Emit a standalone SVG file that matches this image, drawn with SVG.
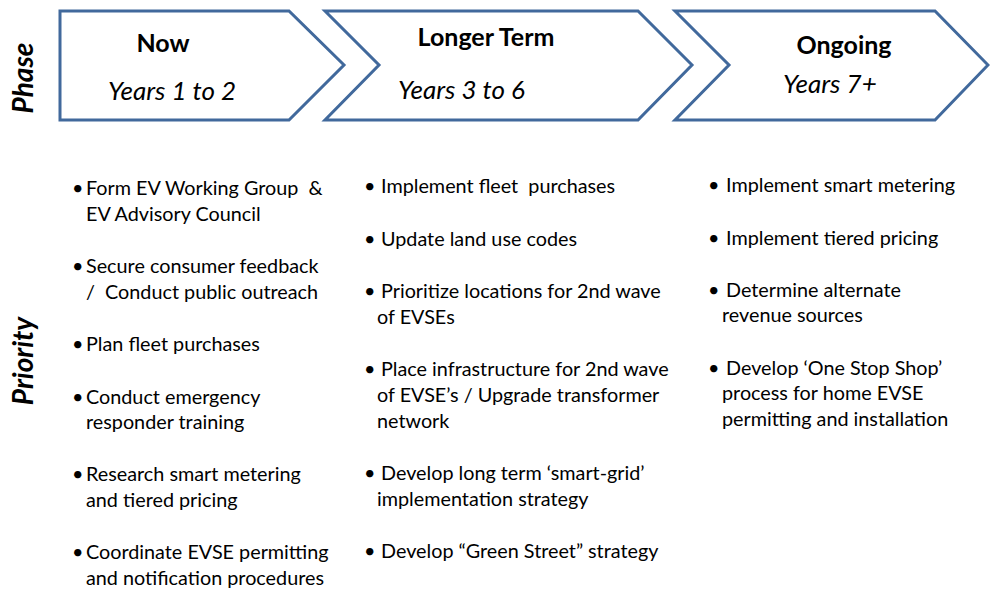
<svg xmlns="http://www.w3.org/2000/svg" width="990" height="589" viewBox="0 0 990 589">
<style>
.chev{fill:#fff;stroke:#41699c;stroke-width:3;stroke-linejoin:miter}
.t{font-family:Lato,"Liberation Sans",sans-serif;fill:#000}
.h{font-size:25px;font-weight:bold;text-anchor:middle}
.y{font-size:26px;font-style:italic}
.b{font-size:19.8px}
.side{font-size:28px;font-weight:bold;font-style:italic;text-anchor:middle}
</style>
<rect width="990" height="589" fill="#fff"/>
<g id="phase-label"><text class="t side" transform="translate(33,78) rotate(-90)">Phase</text></g>
<g id="priority-label"><text class="t side" transform="translate(33,361) rotate(-90)">Priority</text></g>
<g id="now">
<polygon class="chev" points="60,11 289,11 344,65 289,120 60,120"/>
<text class="t h" x="163" y="52">Now</text>
<text class="t y" x="108" y="100">Years 1 to 2</text>
</g>
<g id="longer-term">
<polygon class="chev" points="325,11 638,11 692,65 638,120 325,120 379,65"/>
<text class="t h" x="486" y="46">Longer Term</text>
<text class="t y" x="398" y="99">Years 3 to 6</text>
</g>
<g id="ongoing">
<polygon class="chev" points="675,11 935,11 988,65 935,120 675,120 729,65"/>
<text class="t h" x="844" y="54">Ongoing</text>
<text class="t y" x="783" y="93">Years 7+</text>
</g>
<g id="connectors"></g>
<g id="now-list" class="t b">
<text y="195"><tspan x="72">•</tspan><tspan x="86">Form EV Working Group&#160; &amp;</tspan></text>
<text x="86" y="221">EV Advisory Council</text>
<text y="273"><tspan x="72">•</tspan><tspan x="86">Secure consumer feedback</tspan></text>
<text x="86" y="299">/&#160; Conduct public outreach</text>
<text y="351"><tspan x="72">•</tspan><tspan x="86">Plan fleet purchases</tspan></text>
<text y="404"><tspan x="72">•</tspan><tspan x="86">Conduct emergency</tspan></text>
<text x="86" y="429">responder training</text>
<text y="481"><tspan x="72">•</tspan><tspan x="86">Research smart metering</tspan></text>
<text x="86" y="507">and tiered pricing</text>
<text y="559"><tspan x="72">•</tspan><tspan x="86">Coordinate EVSE permitting</tspan></text>
<text x="86" y="585">and notification procedures</text>
</g>
<g id="longer-list" class="t b">
<text y="193"><tspan x="364">•</tspan><tspan x="381">Implement fleet&#160; purchases</tspan></text>
<text y="246"><tspan x="364">•</tspan><tspan x="381">Update land use codes</tspan></text>
<text y="298"><tspan x="364">•</tspan><tspan x="381">Prioritize locations for 2nd wave</tspan></text>
<text x="377" y="324">of EVSEs</text>
<text y="376"><tspan x="364">•</tspan><tspan x="381">Place infrastructure for 2nd wave</tspan></text>
<text x="377" y="402">of EVSE’s / Upgrade transformer</text>
<text x="377" y="428">network</text>
<text y="480"><tspan x="364">•</tspan><tspan x="381">Develop long term ‘smart-grid’</tspan></text>
<text x="377" y="506">implementation strategy</text>
<text y="558"><tspan x="364">•</tspan><tspan x="381">Develop “Green Street” strategy</tspan></text>
</g>
<g id="ongoing-list" class="t b">
<text y="192"><tspan x="708">•</tspan><tspan x="726">Implement smart metering</tspan></text>
<text y="245"><tspan x="708">•</tspan><tspan x="726">Implement tiered pricing</tspan></text>
<text y="297"><tspan x="708">•</tspan><tspan x="726">Determine alternate</tspan></text>
<text x="722" y="322">revenue sources</text>
<text y="375"><tspan x="708">•</tspan><tspan x="726">Develop ‘One Stop Shop’</tspan></text>
<text x="722" y="400">process for home EVSE</text>
<text x="722" y="426">permitting and installation</text>
</g>
</svg>
